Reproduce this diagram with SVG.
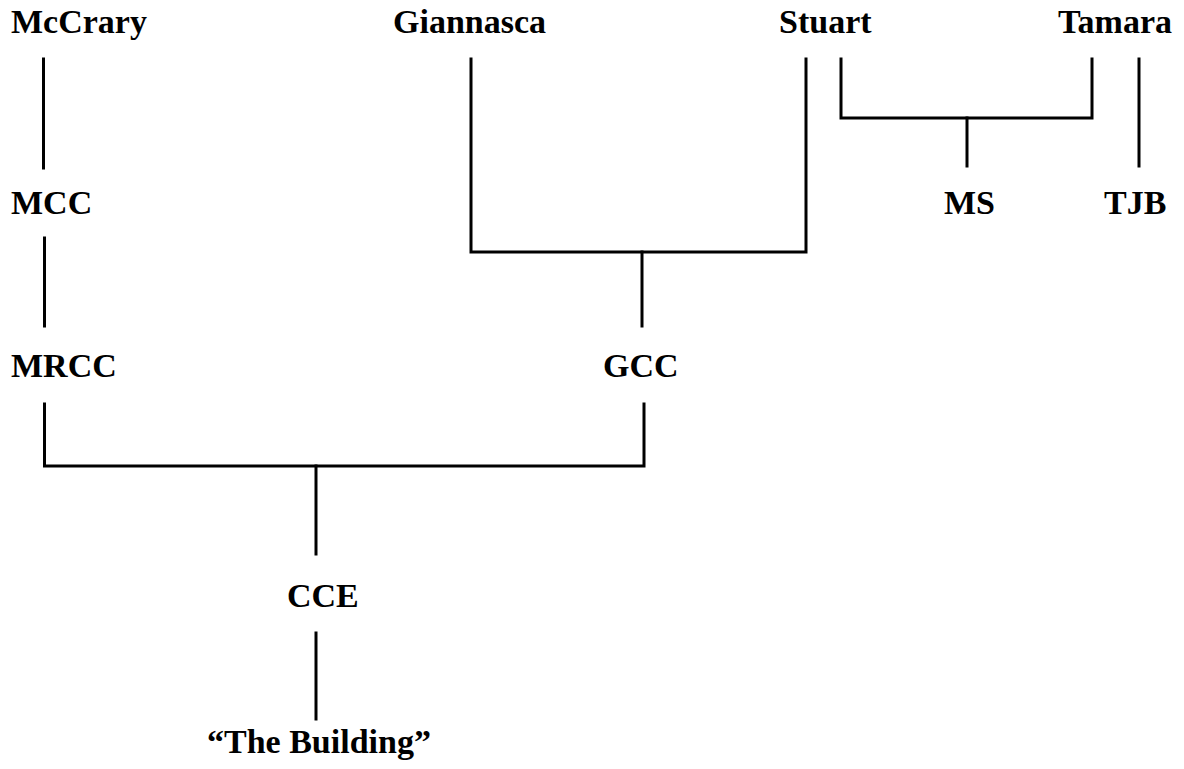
<svg xmlns="http://www.w3.org/2000/svg" width="1184" height="769" viewBox="0 0 1184 769">
<style>
.lbl{font-family:"Liberation Serif","Times New Roman",serif;font-weight:bold;font-size:34px;fill:#000}
.c{fill:none;stroke:#000;stroke-width:3;stroke-linecap:square;stroke-linejoin:miter}
</style>
<rect width="1184" height="769" fill="#fff"/>
<g id="connectors">
<path class="c" d="M43.5 59V168"/>
<path class="c" d="M44.5 238V326"/>
<path class="c" d="M44.5 404V466H644V404"/>
<path class="c" d="M316 466V554"/>
<path class="c" d="M316 633V719"/>
<path class="c" d="M471 59V252H806V59"/>
<path class="c" d="M642 252V326"/>
<path class="c" d="M841 59V118H1092V59"/>
<path class="c" d="M967 118V166"/>
<path class="c" d="M1139 59V166"/>
</g>
<g id="n-mccrary"><text class="lbl" x="11" y="33">McCrary</text></g>
<g id="n-giannasca"><text class="lbl" x="393" y="33">Giannasca</text></g>
<g id="n-stuart"><text class="lbl" x="779" y="33">Stuart</text></g>
<g id="n-tamara"><text class="lbl" x="1058" y="33">Tamara</text></g>
<g id="n-mcc"><text class="lbl" x="11" y="214">MCC</text></g>
<g id="n-ms"><text class="lbl" x="944" y="214">MS</text></g>
<g id="n-tjb"><text class="lbl" x="1104" y="214">TJB</text></g>
<g id="n-mrcc"><text class="lbl" x="11" y="377">MRCC</text></g>
<g id="n-gcc"><text class="lbl" x="603" y="377">GCC</text></g>
<g id="n-cce"><text class="lbl" x="287" y="607">CCE</text></g>
<g id="n-building"><text class="lbl" x="207" y="753">“The Building”</text></g>
</svg>
